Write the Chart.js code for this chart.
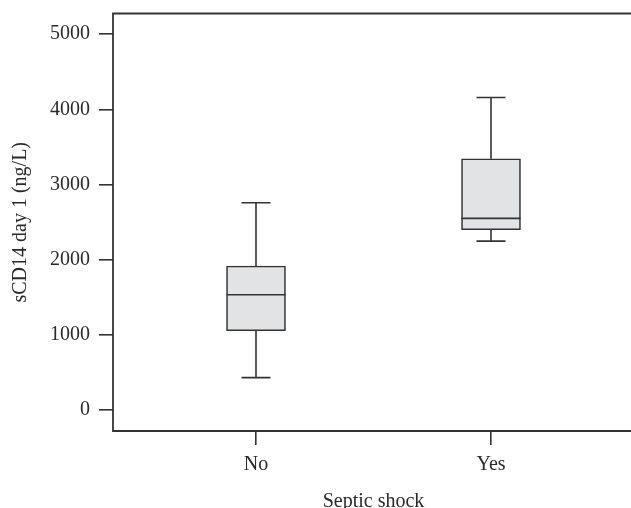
<!DOCTYPE html>
<html>
<head>
<meta charset="utf-8">
<script src="https://cdn.jsdelivr.net/npm/chart.js@4/dist/chart.umd.min.js"></script>
<style>
  html, body { margin: 0; padding: 0; background: #ffffff; }
  #wrap { width: 631px; height: 508px; overflow: hidden; position: relative; }
  canvas { display: block; }
</style>
</head>
<body>
<div id="wrap"><canvas id="c" width="640" height="508"></canvas></div>
<script>
// ---- data ----
const categories = ['No', 'Yes'];
const positions = [1, 2];
const whiskerMin = [430, 2247];
const q1 = [1055, 2398];
const median = [1533, 2549];
const q3 = [1915, 3342];
const whiskerMax = [2757, 4158];
const yTicks = [0, 1000, 2000, 3000, 4000, 5000];
const yTitle = 'sCD14 day 1 (ng/L)';
const xTitle = 'Septic shock';

// ---- style ----
const LINE = '#333333';
const FILL = '#e2e3e5';
const TEXT = '#2a2a2a';
const FONT = "'Liberation Serif', 'DejaVu Serif', serif";
const FS = 20;
const CAP_WIDTH = 29;
const AREA_TOP = 13.5;
const AREA_RIGHT = 634;

const boxExtras = {
  id: 'boxExtras',
  afterDatasetsDraw(chart) {
    const { ctx, scales: { x, y } } = chart;
    ctx.save();
    ctx.strokeStyle = LINE;
    ctx.lineWidth = 1.6;
    positions.forEach((p, i) => {
      const px = x.getPixelForValue(p);
      const yMin = y.getPixelForValue(whiskerMin[i]);
      const yQ1 = y.getPixelForValue(q1[i]);
      const yQ3 = y.getPixelForValue(q3[i]);
      const yMax = y.getPixelForValue(whiskerMax[i]);
      const yMed = y.getPixelForValue(median[i]);
      const bw = chart.getDatasetMeta(0).data[i].width;
      ctx.beginPath();
      ctx.moveTo(px, yQ3); ctx.lineTo(px, yMax);
      ctx.moveTo(px - CAP_WIDTH / 2, yMax); ctx.lineTo(px + CAP_WIDTH / 2, yMax);
      ctx.moveTo(px, yQ1); ctx.lineTo(px, yMin);
      ctx.moveTo(px - CAP_WIDTH / 2, yMin); ctx.lineTo(px + CAP_WIDTH / 2, yMin);
      ctx.moveTo(px - bw / 2, yMed); ctx.lineTo(px + bw / 2, yMed);
      ctx.stroke();
    });
    // open frame: top, left, bottom (right side lies beyond the visible window)
    const a = chart.chartArea;
    ctx.lineWidth = 1.8;
    ctx.beginPath();
    ctx.moveTo(chart.width, a.top);
    ctx.lineTo(a.left, a.top);
    ctx.lineTo(a.left, a.bottom);
    ctx.lineTo(chart.width, a.bottom);
    ctx.stroke();
    ctx.restore();
  }
};

const chart = new Chart(document.getElementById('c'), {
  type: 'bar',
  data: {
    datasets: [{
      data: positions.map((p, i) => ({ x: p, y: [q1[i], q3[i]] })),
      backgroundColor: FILL,
      borderColor: LINE,
      borderWidth: 1.6,
      borderSkipped: false,
      barThickness: 59
    }]
  },
  options: {
    responsive: false,
    animation: false,
    layout: { autoPadding: false, padding: { top: AREA_TOP, right: 6, left: 0, bottom: 0 } },
    plugins: { legend: { display: false }, tooltip: { enabled: false } },
    scales: {
      x: {
        type: 'linear',
        offset: false,
        min: 0.3915,
        max: 2.6085,
        afterBuildTicks(scale) { scale.ticks = positions.map(v => ({ value: v })); },
        afterFit(scale) { scale.height = 77; scale.paddingLeft = 0; scale.paddingRight = 0; },
        ticks: {
          callback: (v) => categories[positions.indexOf(v)],
          color: TEXT,
          font: { family: FONT, size: FS },
          padding: 8,
          maxRotation: 0,
          autoSkip: false
        },
        grid: { display: true, offset: false, drawOnChartArea: false, drawTicks: true, tickLength: 14, color: LINE, lineWidth: 1.6 },
        border: { display: false },
        title: {
          display: true, text: xTitle, color: TEXT,
          font: { family: FONT, size: FS, lineHeight: 0.65 },
          padding: { top: 0, bottom: 0 }
        }
      },
      y: {
        type: 'linear',
        min: -280,
        max: 5275,
        afterBuildTicks(scale) { scale.ticks = yTicks.map(v => ({ value: v })); },
        afterFit(scale) { scale.width = 113; scale.paddingTop = 0; scale.paddingBottom = 0; },
        ticks: {
          callback: (v) => String(v),
          color: TEXT,
          font: { family: FONT, size: FS },
          padding: 9
        },
        grid: { display: true, drawOnChartArea: false, drawTicks: true, tickLength: 14, color: LINE, lineWidth: 1.6 },
        border: { display: false },
        title: {
          display: true, text: yTitle, color: TEXT,
          font: { family: FONT, size: FS, lineHeight: 1 },
          padding: { top: 10.5, bottom: 0 }
        }
      }
    }
  },
  plugins: [boxExtras]
});
</script>
</body>
</html>
